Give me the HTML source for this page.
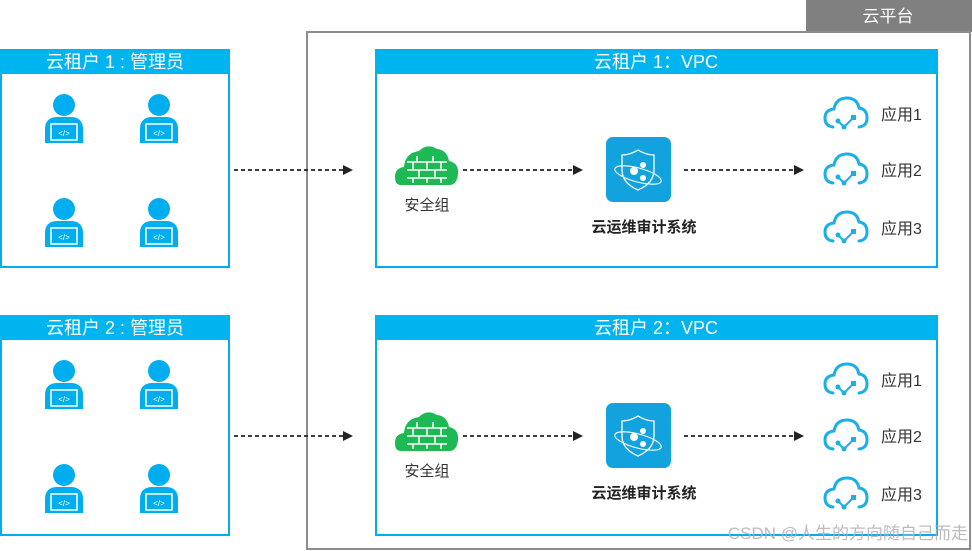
<!DOCTYPE html>
<html><head><meta charset="utf-8"><style>
html,body{margin:0;padding:0;background:#fff;width:972px;height:551px;overflow:hidden}
svg{display:block}
text{font-family:"Liberation Sans","Noto Sans CJK SC",sans-serif}
</style></head><body>
<svg width="972" height="551" viewBox="0 0 972 551" xmlns="http://www.w3.org/2000/svg">
<defs>
<marker id="ah" markerWidth="10" markerHeight="10" refX="9" refY="5" orient="auto" markerUnits="userSpaceOnUse">
<path d="M0,0 L10,5 L0,10 z" fill="#222"/></marker>
<g id="person">
<circle cx="0" cy="-15" r="11" fill="#00aeef"/>
<path d="M-19,22 L-19,9 Q-19,-2 -8,-3 L8,-3 Q19,-2 19,9 L19,22 Z" fill="#00aeef"/>
<rect x="-13" y="4" width="26" height="16" fill="none" stroke="#fff" stroke-width="1.5"/>
<line x1="-19" y1="22" x2="19" y2="22" stroke="#00aeef" stroke-width="2"/>
<text x="0" y="16" font-size="8" fill="#fff" text-anchor="middle">&lt;/&gt;</text>
</g>
<g id="fw">
<path d="M-26,18 Q-32,18 -32,10 Q-32,1 -23,0 Q-22,-14 -8,-16 Q0,-24 10,-18 Q20,-17 22,-6 Q32,-4 31,7 Q30,18 22,18 Z" fill="#1db954"/>
<g stroke="#fff" stroke-width="1.6">
<line x1="-20" y1="-5" x2="20" y2="-5"/><line x1="-20" y1="3" x2="20" y2="3"/><line x1="-20" y1="11" x2="20" y2="11"/>
<line x1="-10" y1="-11" x2="-10" y2="-5"/><line x1="6" y1="-11" x2="6" y2="-5"/>
<line x1="-14" y1="-5" x2="-14" y2="3"/><line x1="0" y1="-5" x2="0" y2="3"/><line x1="14" y1="-5" x2="14" y2="3"/>
<line x1="-8" y1="3" x2="-8" y2="11"/><line x1="8" y1="3" x2="8" y2="11"/>
<line x1="-14" y1="11" x2="-14" y2="16"/><line x1="0" y1="11" x2="0" y2="16"/><line x1="14" y1="11" x2="14" y2="16"/>
</g></g>
<g id="shield">
<rect x="0" y="0" width="65" height="65" rx="7" fill="#12a3de"/>
<path d="M32,13 Q40,18 48,18 L48,33 Q48,46 32,53 Q16,46 16,33 L16,18 Q24,18 32,13 Z" fill="none" stroke="#fff" stroke-width="1.3"/>
<ellipse cx="32" cy="38" rx="24" ry="7" transform="rotate(15 32 38)" fill="none" stroke="#fff" stroke-width="1.1"/>
<circle cx="28" cy="34" r="4" fill="#fff"/><circle cx="37" cy="28" r="3" fill="#fff"/><circle cx="37" cy="41" r="3" fill="#fff"/>
</g>
<g id="app">
<path d="M-13,12 Q-21,11 -21,3 Q-21,-5 -12,-6 Q-10,-17 1,-17 Q11,-17 13,-7 Q21,-6 21,3 Q21,11 13,12" fill="none" stroke="#1ab0e6" stroke-width="3" stroke-linecap="round"/>
<path d="M-8,6 L-2,12 L7,3" fill="none" stroke="#1ab0e6" stroke-width="2"/>
<circle cx="-8" cy="6" r="2.5" fill="#1ab0e6"/><circle cx="-2" cy="12" r="2.5" fill="#1ab0e6"/><rect x="5" y="0" width="5" height="5" fill="#1ab0e6"/>
</g>
</defs>

<rect x="806" y="0" width="166" height="32" fill="#808080"/>
<text x="888" y="22" font-size="17" fill="#fff" text-anchor="middle">云平台</text>
<rect x="307" y="32" width="663" height="517" fill="none" stroke="#8c8c8c" stroke-width="2"/>

<g>
<rect x="1" y="50" width="228" height="217" fill="#fff" stroke="#00aeef" stroke-width="2"/>
<rect x="0" y="49" width="230" height="25" fill="#00b4f0"/>
<text x="115" y="68" font-size="18" fill="#fff" text-anchor="middle">云租户 1 : 管理员</text>
<use href="#person" x="64" y="120"/><use href="#person" x="159" y="120"/>
<use href="#person" x="64" y="224"/><use href="#person" x="159" y="224"/>
</g>
<g>
<rect x="1" y="316" width="228" height="219" fill="#fff" stroke="#00aeef" stroke-width="2"/>
<rect x="0" y="315" width="230" height="25" fill="#00b4f0"/>
<text x="115" y="334" font-size="18" fill="#fff" text-anchor="middle">云租户 2 : 管理员</text>
<use href="#person" x="64" y="386"/><use href="#person" x="159" y="386"/>
<use href="#person" x="64" y="490"/><use href="#person" x="159" y="490"/>
</g>

<rect x="376" y="50" width="561" height="217" fill="#fff" stroke="#00aeef" stroke-width="2"/>
<rect x="375" y="49" width="563" height="25" fill="#00b4f0"/>
<text x="656" y="68" font-size="18" fill="#fff" text-anchor="middle">云租户 1：VPC</text>
<use href="#fw" x="427" y="167"/>
<text x="427" y="210" font-size="15" fill="#333" text-anchor="middle">安全组</text>
<use href="#shield" x="606" y="137"/>
<text x="644" y="232" font-size="15" font-weight="bold" fill="#222" text-anchor="middle">云运维审计系统</text>
<use href="#app" x="846" y="115"/><text x="881" y="120" font-size="16" fill="#333">应用1</text>
<use href="#app" x="846" y="171"/><text x="881" y="176" font-size="16" fill="#333">应用2</text>
<use href="#app" x="846" y="229"/><text x="881" y="234" font-size="16" fill="#333">应用3</text>

<rect x="376" y="316" width="561" height="219" fill="#fff" stroke="#00aeef" stroke-width="2"/>
<rect x="375" y="315" width="563" height="25" fill="#00b4f0"/>
<text x="656" y="334" font-size="18" fill="#fff" text-anchor="middle">云租户 2：VPC</text>
<use href="#fw" x="427" y="433"/>
<text x="427" y="476" font-size="15" fill="#333" text-anchor="middle">安全组</text>
<use href="#shield" x="606" y="403"/>
<text x="644" y="498" font-size="15" font-weight="bold" fill="#222" text-anchor="middle">云运维审计系统</text>
<use href="#app" x="846" y="381"/><text x="881" y="386" font-size="16" fill="#333">应用1</text>
<use href="#app" x="846" y="437"/><text x="881" y="442" font-size="16" fill="#333">应用2</text>
<use href="#app" x="846" y="495"/><text x="881" y="500" font-size="16" fill="#333">应用3</text>

<g stroke="#222" stroke-width="1.8" stroke-dasharray="4,3" marker-end="url(#ah)">
<line x1="234" y1="170" x2="352" y2="170"/>
<line x1="463" y1="170" x2="582" y2="170"/>
<line x1="684" y1="170" x2="803" y2="170"/>
<line x1="234" y1="436" x2="352" y2="436"/>
<line x1="463" y1="436" x2="582" y2="436"/>
<line x1="684" y1="436" x2="803" y2="436"/>
</g>

<text x="968" y="539" font-size="17" fill="#b0b0b0" fill-opacity="0.85" text-anchor="end">CSDN @人生的方向随自己而走</text>
</svg>
</body></html>
